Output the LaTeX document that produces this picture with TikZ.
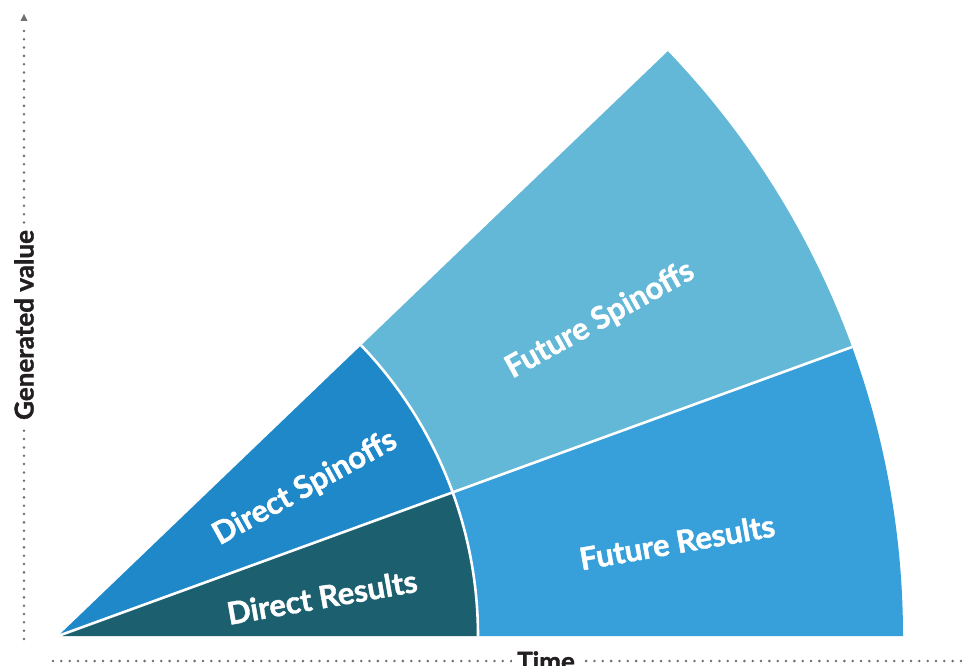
\documentclass[tikz,border=0pt]{standalone}
\usepackage{fontspec}
\setmainfont{Lato}
\newfontfamily\labelfont{Lato}[BoldFeatures={FakeBold=1.4}]
\usetikzlibrary{calc}
\definecolor{resultsdark}{HTML}{1C5F6E}
\definecolor{spinoffsdark}{HTML}{1E88C9}
\definecolor{resultslight}{HTML}{379FD9}
\definecolor{spinoffslight}{HTML}{63B7D7}
\definecolor{axisgray}{HTML}{6F7072}
\definecolor{labelink}{HTML}{231F20}

\begin{document}
\begin{tikzpicture}
      [x=1pt, y=-1pt,
      sector/.style={draw=white, line width=2.6pt, line join=round},
      region label/.style={text=white, font=\labelfont\bfseries\fontsize{31}{34}\selectfont},
      axis label/.style={fill=white, text=labelink, inner sep=5pt, font=\labelfont\bfseries\fontsize{26}{28}\selectfont},
      axis dots/.style={axisgray, line width=2.8pt, line cap=round, dash pattern=on 0pt off 8.33pt}]

      \useasboundingbox (0,0) rectangle (966,666);
      \coordinate (O) at (58,636);

      % the four parts of the fan
      \fill[resultsdark] (O) -- ($(O)+(0:420pt)$) arc[start angle=0, end angle=20, radius=420pt] -- cycle;
      \fill[spinoffsdark] (O) -- ($(O)+(20:420pt)$) arc[start angle=20, end angle=43.8, radius=420pt] -- cycle;
      \fill[resultslight] ($(O)+(0:420pt)$) -- ($(O)+(0:845pt)$) arc[start angle=0, end angle=20, radius=845pt]
        -- ($(O)+(20:420pt)$) arc[start angle=20, end angle=0, radius=420pt] -- cycle;
      \fill[spinoffslight] ($(O)+(20:420pt)$) -- ($(O)+(20:845pt)$) arc[start angle=20, end angle=43.8, radius=845pt]
        -- ($(O)+(43.8:420pt)$) arc[start angle=43.8, end angle=20, radius=420pt] -- cycle;

      % white seams
      \draw[sector] (O) -- ($(O)+(20:845pt)$);
      \draw[sector] ($(O)+(0:420pt)$) arc[start angle=0, end angle=43.8, radius=420pt];

      \node[region label, rotate=10] (directresults) at (322,597) {Direct Results};
      \node[region label, rotate=29] (directspinoffs) at (305,488) {Direct Spinoffs};
      \node[region label, rotate=10] (futureresults) at (677,542) {Future Results};
      \node[region label, rotate=29] (futurespinoffs) at (600,320) {Future Spinoffs};

      % axes
      \coordinate (ybottom) at (24,639);
      \coordinate (ytop) at (24,26);
      \coordinate (xleft) at (53,661);
      \coordinate (xright) at (966,661);
      \draw[axis dots] (ybottom) -- (ytop);
      \fill[axisgray] (20.5,21) -- (27.5,21) -- (24,14) -- cycle;
      \draw[axis dots] (xleft) -- (xright);

      \node[axis label, rotate=90] (valuelabel) at (24,325) {Generated value};
      \node[axis label] (timelabel) at (546,661) {Time};
    \end{tikzpicture}
\end{document}
